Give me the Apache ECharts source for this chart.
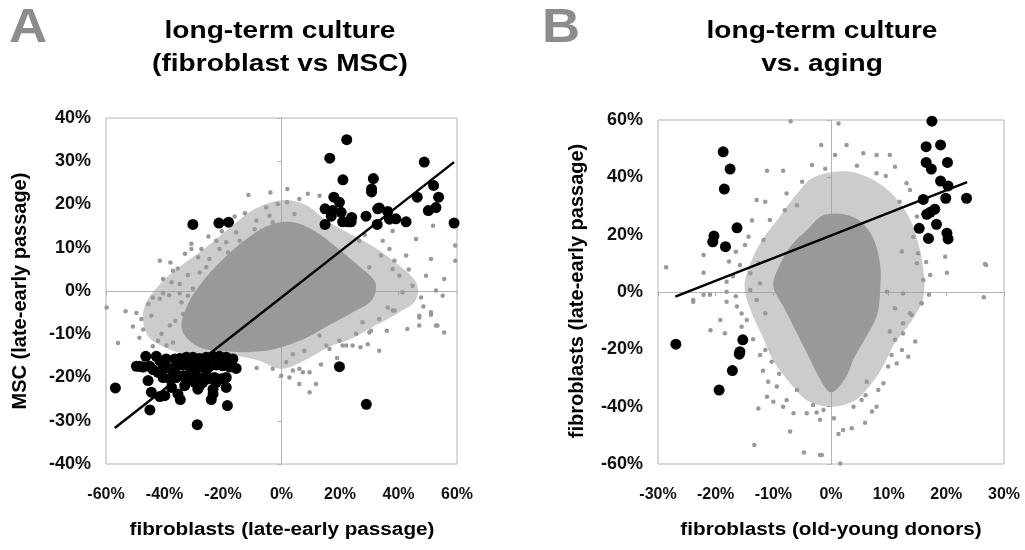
<!DOCTYPE html>
<html>
<head>
<meta charset="utf-8">
<script src="https://cdn.jsdelivr.net/npm/echarts@6/dist/echarts.min.js"></script>
<style>
html,body{margin:0;padding:0;background:#fff;}
#chart{width:1025px;height:550px;}
</style>
</head>
<body>
<div id="chart"></div>
<script>
// ---------------- Panel A data (fibroblast vs MSC, %) ----------------
const panelA_xTicks = [-60, -40, -20, 0, 20, 40, 60];
const panelA_yTicks = [-40, -30, -20, -10, 0, 10, 20, 30, 40];
const panelA_fitLine = [[-57, -31.7], [59, 29.8]];
const panelA_haloOutline = [[-46,-10],[-47,-4],[-41,2],[-34,6],[-26,10],[-17,15],[-9,19],[0,21],[8,20],[16,16],[24,13],[32,10],[40,6],[46,2],[46,-2],[40,-5],[32,-8],[24,-11],[16,-13],[8,-16],[0,-18],[-8,-16],[-16,-15],[-30,-15],[-40,-13]];
const panelA_coreOutline = [[-34,-9],[-32,-3],[-26,3],[-19,8],[-12,12],[-5,15],[3,16],[11,14],[19,10],[26,6],[32,2],[31,-2],[24,-5],[16,-8],[8,-11],[0,-13],[-8,-14],[-18,-14],[-28,-13]];
const panelA_grayPoints = [
[-11.3,22.2],[-5.2,19.3],[-1.3,20.1],[-22.3,11.6],[-30.8,10.9],[-30.8,9.7],[-27.4,9.7],[-41.6,7.0],[-38.0,6.6],[-37.1,4.7],[-40.5,2.8],[-37.6,2.0],[-34.8,1.6],[-32.0,3.7],[-59.8,-3.8],[-53.3,-4.7],[-49.6,-5.1],[-47.9,-6.5],[-47.3,-8.9],[-55.9,-12.0],[-41.6,-1.8],[-40.5,-0.5],[-38.4,-1.0],[-34.8,-0.5],[-44.5,-5.7],[-41.0,-9.9],[-38.2,-8.0],[-36.3,-6.9],[-42.2,-11.5],[-39.3,-12.6],[-37.1,-11.9],[-33.7,-5.3],[-34.2,-2.6],[-28.0,4.3],[-25.7,5.5],[-24.6,7.4],[-21.2,9.7],[-18.3,8.9],[-18.9,11.3],[-15.5,13.6],[-14.3,11.6],[-9.2,14.3],[-8.6,16.3],[-4.1,17.4],[-3.0,15.9],[-30.3,0.5],[-32.0,-1.1],
[-12.5,18.0],[-16.0,17.2],[-20.4,13.8],[-25.0,12.6],[-28.5,7.8],[-33.0,8.6],[-35.5,5.2],[-44.0,-1.5],[-45.5,-3.0],[-48.6,-10.8],[-50.8,-8.2],[-44.0,-12.8],[-3.8,22.8],[2.0,23.6],[9.0,22.5],[17.5,19.2],[21.0,15.8],[28.5,13.0],[43.5,5.0],[48.5,-3.6],[43.0,-8.8],[36.0,-9.2],[27.0,-13.0],[19.0,-15.5],[13.5,-17.0],[-3.0,-18.0],[-8.5,-17.8],
[46.0,12.0],[51.1,7.4],[59.4,10.5],[59.4,7.0],[55.6,2.8],[52.8,0.1],[47.7,-1.5],[55.1,-1.1],[51.1,-5.5],[52.8,-8.0],[55.6,-9.6],[47.1,-6.1],[41.4,-0.3],[44.8,1.2],[49.4,3.5],[42.6,8.2],[36.9,9.7],[38.0,5.1],[38.6,-4.5],[33.4,-6.5],[33.4,-13.8],[29.5,-12.3],[25.5,-9.9],[22.1,-12.6],[19.8,-11.5],[16.4,-13.4],[13.0,-10.3],[10.1,-9.6],[7.8,-13.8],[3.9,-14.6],[6.1,-18.0],[9.6,-18.8],[11.8,-21.5],[1.6,-16.5],[-0.1,-19.6],[30.6,-9.2],[27.7,-7.2],[36.3,-3.8],[47.1,-8.0],[38.6,7.0],[34.0,8.2],[40.3,3.5],[30.0,5.5],[26.6,11.6],[34.6,11.6],[38.0,13.9],[51.8,15.1],[13.0,22.0],[6.1,21.3],[1.9,20.5],[14.1,14.7],[4.4,17.8],
[2.7,-20.0],[6.1,-21.5],[9.6,-23.4],[3.9,-18.4],[7.3,-18.8],[15.3,-12.6],[20.9,-12.6],[24.3,-12.6],[30.0,-9.6],[38.0,-4.5],[47.1,-5.7],[53.3,-8.0],[51.1,-4.9]
];
const panelA_blackPoints = [
[22.3,35.0],[16.5,30.7],[48.8,29.8],[21.0,25.7],[31.4,26.0],[30.8,23.6],[30.8,22.9],[52.0,24.4],[17.9,21.7],[19.8,20.5],[46.4,21.7],[53.7,21.7],[52.8,19.3],[50.2,18.6],[14.9,19.0],[17.5,18.6],[17.0,17.3],[20.4,18.2],[20.9,16.0],[22.7,16.0],[24.0,17.0],[23.8,16.0],[14.9,15.4],[28.9,17.3],[32.9,19.0],[33.4,19.2],[36.3,18.4],[32.7,15.4],[36.9,16.6],[39.1,16.7],[42.6,16.0],[59.0,15.7],
[-30.3,15.4],[-21.4,15.7],[-18.1,15.9],
[-56.8,-22.4],[-45.0,-27.5],[-28.8,-30.9],[-18.5,-26.5],[19.8,-17.5],[29.0,-26.2],
[-46.4,-15.1],[-42.8,-15.1],[-48.5,-17.4],[-45.1,-17.4],[-41.6,-16.1],[-39.4,-15.7],[-36.5,-15.7],[-34.8,-15.6],[-32.5,-15.3],[-30.3,-15.3],[-28.0,-15.6],[-25.7,-15.3],[-23.4,-15.1],[-21.2,-15.1],[-18.9,-15.3],[-16.6,-15.7],[-15.5,-17.9],[-17.7,-17.6],[-20.1,-17.3],[-22.3,-17.1],[-24.6,-17.4],[-26.9,-17.6],[-29.1,-17.6],[-31.4,-17.4],[-33.7,-17.1],[-35.9,-17.4],[-38.2,-17.9],[-40.5,-18.0],[-42.2,-18.8],[-40.5,-20.0],[-38.2,-20.3],[-35.9,-20.0],[-33.7,-19.6],[-31.4,-19.2],[-29.1,-19.6],[-27.4,-20.3],[-25.1,-20.3],[-22.9,-20.0],[-20.6,-20.3],[-18.9,-20.0],[-45.6,-20.7],[-44.5,-23.4],[-41.6,-24.4],[-39.9,-24.2],[-37.6,-22.3],[-35.4,-23.8],[-34.6,-25.1],[-33.1,-21.9],[-28.0,-21.9],[-23.4,-22.7],[-22.3,-21.1],[-18.9,-22.3],[-24.0,-25.1],[-23.4,-23.8],[-30.8,-20.3],[-29.7,-21.1],[-49.6,-17.4],[-47.3,-17.6],[-43.9,-18.2],[-25.7,-18.4],[-28.6,-22.7],[-26.9,-21.1],[-32.5,-20.7],[-36.5,-18.8]
];

// ---------------- Panel B data (long-term culture vs aging, %) ----------------
const panelB_xTicks = [-30, -20, -10, 0, 10, 20, 30];
const panelB_yTicks = [-60, -40, -20, 0, 20, 40, 60];
const panelB_fitLine = [[-27, -1.6], [23.6, 38.3]];
const panelB_haloOutline = [[-3,40],[3,42],[9,37],[13,28],[15,18],[16,8],[16,-2],[14,-10],[11,-18],[9,-26],[7,-32],[4,-38],[0,-40],[-4,-38],[-7,-32],[-10,-24],[-12,-15],[-14,-6],[-15,2],[-14,10],[-12,18],[-9,26],[-6,34]];
const panelB_coreOutline = [[-1,27],[4,26],[7,20],[8.5,10],[8.5,0],[8,-8],[6,-16],[4,-23],[2.5,-30],[0,-35],[-2,-30],[-4,-22],[-6,-14],[-8,-6],[-10,2],[-9,9],[-7,16],[-4,22]];
const panelB_grayPoints = [
[-1.7,51.3],[-11.1,42.3],[-8.3,42.3],[-3.3,44.3],[-12.9,32.1],[-11.4,31.5],[-7.7,34.4],[-5.9,30.3],[-10.6,25.1],[-13.7,24.9],[-14.3,19.3],[-11.7,18.1],[-22.1,12.9],[-17.7,10.6],[-14.9,16.4],[-28.6,8.6],[-22.1,6.7],[-15.8,9.4],[-14.0,6.5],[-12.6,10.0],[-18.1,3.6],[-23.9,-2.8],[-22.1,-1.0],[-21.0,-1.0],[-18.1,0.1],[-18.1,-3.4],[-16.3,-5.1],[-14.0,0.7],[-12.3,3.0],[-12.9,-2.8],
[0.7,47.8],[2.7,51.3],[5.6,48.4],[7.9,47.8],[10.2,47.8],[11.1,43.7],[7.9,41.4],[13.1,37.9],[13.7,35.6],[11.9,31.5],[14.9,26.3],[14.3,19.3],[15.1,13.5],[12.3,14.1],[14.9,10.0],[16.0,4.2],[17.2,5.9],[19.8,12.3],[20.1,6.7],[26.9,9.4],[26.5,-1.8],[15.7,-3.9],[13.7,-7.4],[11.1,-5.7],[9.7,0.1],[12.5,-0.5],
[-23.9,-3.4],[-20.9,-13.3],[-18.4,-14.4],[-19.2,-9.8],[-15.5,-12.1],[-14.6,-9.8],[-12.3,-22.0],[-10.9,-31.3],[-11.1,-36.5],[-12.6,-40.6],[-10.0,-38.3],[-8.3,-40.0],[-7.1,-48.7],[-6.5,-42.3],[-4.2,-42.3],[-1.9,-44.6],[-13.3,-53.4],[-4.7,-56.0],[-1.9,-56.9],[-11.4,-20.2],[-11.4,-7.4],[-10.3,-24.3],[-9.4,-33.0],[-7.7,-37.7],[-5.9,-34.2],[-3.1,-39.4],[-1.3,-41.2],
[15.7,-3.9],[14.0,-8.0],[12.5,-10.9],[14.6,-17.3],[13.4,-22.6],[12.3,-20.2],[11.4,-24.9],[9.9,-26.0],[9.1,-31.8],[8.2,-34.2],[7.9,-40.0],[7.1,-41.7],[5.9,-45.6],[3.6,-47.5],[2.1,-48.1],[1.3,-49.5],[-1.6,-56.9],[1.6,-59.8],[5.3,-37.7],[3.9,-40.0],[6.2,-31.3],[11.1,-16.7],[10.2,-13.8],
[-7.0,59.6],[1.3,58.8],[26.7,9.8],
[-5.0,38.5],[-1.0,43.0],[4.5,44.0],[9.5,40.5],[-8.0,28.5],[-16.5,14.0],[-17.0,5.5],[-16.5,-1.5],[-15.5,-7.5],[-13.5,-16.5],[-11.8,-27.5],[-9.0,-28.5],[17.0,-1.0],[16.5,10.5],[16.8,20.0],[12.5,-14.5],[10.5,-22.0],[6.0,-36.0],[-2.5,-42.0],[0.5,-44.0]
];
const panelB_blackPoints = [
[-18.7,48.9],[-17.5,42.9],[-18.5,35.9],[-16.3,22.4],[-20.3,19.5],[-20.5,17.5],[-18.3,15.8],
[17.5,59.6],[16.5,50.7],[19.0,51.3],[16.5,45.2],[20.2,45.2],[17.4,42.9],[19.0,38.7],[20.3,37.0],[16.0,32.3],[19.9,32.7],[23.5,32.7],[18.0,28.9],[17.2,27.8],[16.6,27.1],[18.3,23.6],[15.3,22.2],[16.9,18.7],[20.1,20.5],[20.3,18.5],
[-26.9,-18.2],[-15.3,-16.7],[-15.8,-20.8],[-15.9,-21.7],[-17.1,-27.4],[-19.4,-34.2]
];

// ---------------- chart ----------------
const FONT = '"Liberation Sans", Arial, sans-serif';
const GRAY = '#999999';
const AXISGRAY = '#b4b4b4';

function polygonRenderer(points, opacity) {
  return function (params, api) {
    if (params.dataIndex !== 0) return null;
    return {
      type: 'polygon',
      shape: { points: points.map(p => api.coord(p)), smooth: 0.35 },
      style: { fill: GRAY, opacity: opacity }
    };
  };
}

function crossAxis(ticks, otherIdx, gridIndex, pos) {
  return {
    type: 'value', gridIndex: gridIndex, position: pos,
    min: ticks[0], max: ticks[ticks.length - 1], interval: ticks[1] - ticks[0],
    axisLine: { show: true, onZero: true, onZeroAxisIndex: otherIdx, lineStyle: { color: AXISGRAY, width: 1 } },
    axisTick: { show: true, length: 4, lineStyle: { color: AXISGRAY } },
    axisLabel: { show: false },
    splitLine: { show: false }
  };
}
function labelAxis(ticks, gridIndex, pos, fontSize) {
  return {
    type: 'value', gridIndex: gridIndex, position: pos,
    min: ticks[0], max: ticks[ticks.length - 1], interval: ticks[1] - ticks[0],
    axisLine: { show: false, onZero: false },
    axisTick: { show: false },
    splitLine: { show: false },
    axisLabel: {
      show: true, formatter: v => v + '%', color: '#111',
      fontWeight: 'bold', fontSize: fontSize, fontFamily: FONT,
      margin: pos === 'bottom' ? 23 : 15
    }
  };
}

const chart = echarts.init(document.getElementById('chart'), null, { renderer: 'canvas' });

const textStyle = (size) => ({ font: 'bold ' + size + 'px ' + FONT, fill: '#000', textAlign: 'center', textVerticalAlign: 'middle' });

chart.setOption({
  animation: false,
  backgroundColor: '#fff',
  grid: [
    { left: 106, top: 118, width: 351, height: 346, show: true, borderColor: AXISGRAY, borderWidth: 1, backgroundColor: 'transparent' },
    { left: 658, top: 120, width: 346, height: 344, show: true, borderColor: AXISGRAY, borderWidth: 1, backgroundColor: 'transparent' }
  ],
  xAxis: [
    crossAxis(panelA_xTicks, 0, 0, 'bottom'),
    labelAxis(panelA_xTicks, 0, 'bottom', 16),
    crossAxis(panelB_xTicks, 2, 1, 'bottom'),
    labelAxis(panelB_xTicks, 1, 'bottom', 16)
  ],
  yAxis: [
    crossAxis(panelA_yTicks, 0, 0, 'left'),
    labelAxis(panelA_yTicks, 0, 'left', 18),
    crossAxis(panelB_yTicks, 2, 1, 'left'),
    labelAxis(panelB_yTicks, 1, 'left', 18)
  ],
  graphic: [
    { type: 'text', x: 28, y: 29, scaleX: 1.1, style: { text: 'A', font: 'bold 48px ' + FONT, fill: '#8c8c8c', textAlign: 'center', textVerticalAlign: 'middle' } },
    { type: 'text', x: 561, y: 29, scaleX: 1.1, style: { text: 'B', font: 'bold 48px ' + FONT, fill: '#8c8c8c', textAlign: 'center', textVerticalAlign: 'middle' } },
    { type: 'text', x: 280, y: 31, scaleX: 1.17, style: Object.assign(textStyle(24), { text: 'long-term culture' }) },
    { type: 'text', x: 280, y: 64, scaleX: 1.17, style: Object.assign(textStyle(24), { text: '(fibroblast vs MSC)' }) },
    { type: 'text', x: 822, y: 31, scaleX: 1.17, style: Object.assign(textStyle(24), { text: 'long-term culture' }) },
    { type: 'text', x: 822, y: 64, scaleX: 1.17, style: Object.assign(textStyle(24), { text: 'vs. aging' }) },
    { type: 'text', x: 20, y: 291, rotation: Math.PI / 2, style: Object.assign(textStyle(20), { text: 'MSC (late-early passage)' }) },
    { type: 'text', x: 577, y: 291, rotation: Math.PI / 2, style: Object.assign(textStyle(20), { text: 'fibroblasts (late-early passage)' }) },
    { type: 'text', x: 282, y: 530, scaleX: 1.15, style: Object.assign(textStyle(18), { text: 'fibroblasts (late-early passage)' }) },
    { type: 'text', x: 831, y: 530, scaleX: 1.15, style: Object.assign(textStyle(18), { text: 'fibroblasts (old-young donors)' }) }
  ],
  series: [
    { type: 'custom', xAxisIndex: 0, yAxisIndex: 0, data: panelA_haloOutline, renderItem: polygonRenderer(panelA_haloOutline, 0.5), silent: true },
    { type: 'custom', xAxisIndex: 0, yAxisIndex: 0, data: panelA_coreOutline, renderItem: polygonRenderer(panelA_coreOutline, 1), silent: true },
    { type: 'scatter', xAxisIndex: 0, yAxisIndex: 0, data: panelA_grayPoints, symbolSize: 4.5, itemStyle: { color: GRAY, opacity: 1 }, silent: true },
    { type: 'line', xAxisIndex: 0, yAxisIndex: 0, data: panelA_fitLine, showSymbol: false, symbol: 'none', lineStyle: { color: '#000', width: 2.5 }, silent: true },
    { type: 'scatter', xAxisIndex: 0, yAxisIndex: 0, data: panelA_blackPoints, symbolSize: 11, itemStyle: { color: '#000', opacity: 1 }, silent: true },

    { type: 'custom', xAxisIndex: 2, yAxisIndex: 2, data: panelB_haloOutline, renderItem: polygonRenderer(panelB_haloOutline, 0.5), silent: true },
    { type: 'custom', xAxisIndex: 2, yAxisIndex: 2, data: panelB_coreOutline, renderItem: polygonRenderer(panelB_coreOutline, 1), silent: true },
    { type: 'scatter', xAxisIndex: 2, yAxisIndex: 2, data: panelB_grayPoints, symbolSize: 4.5, itemStyle: { color: GRAY, opacity: 1 }, silent: true },
    { type: 'line', xAxisIndex: 2, yAxisIndex: 2, data: panelB_fitLine, showSymbol: false, symbol: 'none', lineStyle: { color: '#000', width: 2.5 }, silent: true },
    { type: 'scatter', xAxisIndex: 2, yAxisIndex: 2, data: panelB_blackPoints, symbolSize: 11, itemStyle: { color: '#000', opacity: 1 }, silent: true }
  ]
});
</script>
</body>
</html>
